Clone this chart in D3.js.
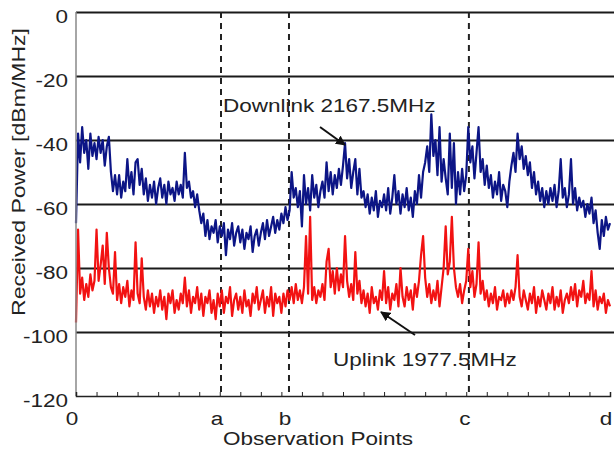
<!DOCTYPE html>
<html>
<head>
<meta charset="utf-8">
<script src="https://cdn.jsdelivr.net/npm/d3@7"></script>
<style>
  body { margin: 0; background: #fff; }
  text { font-family: "Liberation Sans", Arial, sans-serif; fill: #222; }
</style>
</head>
<body>
<div id="chart"></div>
<script>
// observation points along the route (x units), sampled every 0.1
const step = 0.1;
const pointNames = ["0", "a", "b", "c", "d"];
const pointPos = [0, 7.06, 10.37, 19.13, 26];
const yTicks = [0, -20, -40, -60, -80, -100, -120];

// Downlink 2167.5MHz, received power dBm/MHz
const downlink = [
  -66, -38, -47, -36, -44, -40, -49, -38, -45, -41,
  -46, -39, -44, -40, -48, -42, -39, -50, -56, -51,
  -57, -51, -58, -53, -56, -46, -55, -50, -57, -47,
  -46, -54, -49, -57, -52, -59, -54, -58, -53, -60,
  -55, -52, -58, -54, -60, -53, -57, -55, -59, -53,
  -57, -54, -58, -44, -55, -53, -58, -56, -61, -57,
  -62, -66, -63, -70, -65, -71, -67, -69, -65, -72,
  -67, -70, -66, -76, -68, -71, -66, -73, -69, -67,
  -72, -68, -74, -69, -71, -67, -75, -70, -68, -73,
  -69, -66, -71, -65, -70, -67, -64, -69, -65, -68,
  -63, -66, -61, -65, -62, -50, -58, -55, -61, -56,
  -67, -51, -60, -55, -62, -51, -58, -54, -61, -56,
  -53, -58, -47, -56, -50, -57, -51, -55, -49, -54,
  -48, -41, -52, -46, -55, -50, -46, -57, -49, -58,
  -56, -61, -57, -63, -58, -62, -56, -64, -59, -61,
  -57, -62, -55, -63, -58, -51, -60, -56, -63, -57,
  -61, -55, -62, -58, -64, -56, -60, -51, -58, -50,
  -47, -42, -50, -32, -45, -40, -51, -36, -53, -46,
  -52, -57, -38, -55, -41, -60, -50, -57, -49, -56,
  -51, -36, -47, -42, -52, -44, -36, -50, -46, -54,
  -48, -55, -51, -58, -53, -57, -50, -59, -54, -56,
  -61, -53, -48, -44, -50, -38, -46, -42, -49, -45,
  -51, -47, -55, -50, -57, -53, -59, -55, -61, -56,
  -60, -55, -59, -54, -61, -56, -46, -58, -55, -61,
  -57, -46, -60, -55, -62, -58, -61, -59, -64, -60,
  -63, -58, -66, -62, -69, -74, -65, -70, -64, -68, -66
];

// Uplink 1977.5MHz, received power dBm/MHz
const uplink = [
  -97, -68, -88, -83, -90, -85, -89, -82, -87, -84,
  -68, -84, -79, -73, -85, -69, -80, -86, -88, -75,
  -90, -85, -91, -86, -89, -84, -92, -87, -90, -72,
  -88, -91, -77, -89, -93, -87, -92, -88, -94, -89,
  -92, -87, -93, -89, -96, -88, -91, -87, -94, -90,
  -93, -88, -91, -83, -92, -87, -94, -89, -91, -86,
  -93, -88, -95, -89, -91, -87, -94, -90, -96, -88,
  -92, -87, -94, -89, -91, -86, -95, -90, -88, -93,
  -89, -94, -87, -92, -90, -95, -88, -91, -86, -93,
  -90, -87, -94, -89, -92, -86, -95, -88, -91, -89,
  -94, -88, -92, -87, -90, -86, -91, -85, -90, -87,
  -91, -86, -70, -88, -64, -90, -86, -91, -87, -89,
  -85, -90, -78, -74, -86, -81, -88, -80, -87, -82,
  -86, -70, -84, -89, -85, -90, -75, -88, -84, -91,
  -87, -92, -88, -94, -86, -91, -89, -93, -87, -90,
  -81, -91, -86, -93, -88, -90, -85, -92, -80, -89,
  -92, -86, -90, -87, -93, -85, -89, -84, -76, -70,
  -83, -89, -85, -91, -87, -90, -84, -92, -86, -80,
  -67, -82, -78, -64, -80, -86, -89, -85, -91, -87,
  -84, -74, -86, -81, -89, -85, -72, -88, -84, -90,
  -87, -92, -88, -91, -86, -93, -89, -90, -87, -92,
  -88, -91, -87, -90, -86, -76, -89, -92, -87, -90,
  -93, -88, -91, -86, -94, -89, -92, -87, -90, -93,
  -88, -91, -86, -93, -89, -92, -87, -94, -90, -88,
  -91, -86, -90, -85, -92, -87, -89, -84, -91, -88,
  -90, -81, -92, -87, -93, -89, -91, -88, -94, -90, -92
];

const width = 616, height = 450;
const mLeft = 76, mRight = 610, mTop = 12, mBottom = 396;
const textScale = 1.25;

const svg = d3.select("#chart").append("svg")
    .attr("width", width)
    .attr("height", height)
    .attr("viewBox", `0 0 ${width} ${height}`);

svg.append("rect").attr("width", width).attr("height", height).attr("fill", "#fff");

const x = d3.scaleLinear().domain([0, 26]).range([mLeft, mRight]);
const y = d3.scaleLinear().domain([-120, 0]).range([mBottom, mTop]);

// horizontal grid lines
svg.append("g")
    .attr("transform", `translate(${mLeft},0)`)
    .call(d3.axisLeft(y).tickValues(yTicks.slice(0, -1)).tickSize(-(mRight - mLeft + 4)).tickFormat(""))
    .call(g => g.select(".domain").remove())
    .call(g => g.selectAll(".tick line").attr("stroke", "#1a1a1a").attr("stroke-width", 2));

// dashed lines at the observation points a, b, c
svg.append("g").selectAll("line")
    .data(pointPos.slice(1, 4))
    .join("line")
    .attr("x1", d => x(d)).attr("x2", d => x(d))
    .attr("y1", mTop).attr("y2", mBottom)
    .attr("stroke", "#222")
    .attr("stroke-width", 2)
    .attr("stroke-dasharray", "6,5");

const line = d3.line()
    .x((d, i) => x(i * step))
    .y(d => y(d));

svg.append("path")
    .datum(uplink)
    .attr("d", line)
    .attr("fill", "none")
    .attr("stroke", "#f21212")
    .attr("stroke-width", 2.2)
    .attr("stroke-linejoin", "round");

svg.append("path")
    .datum(downlink)
    .attr("d", line)
    .attr("fill", "none")
    .attr("stroke", "#0c1586")
    .attr("stroke-width", 2.2)
    .attr("stroke-linejoin", "round");

// left axis line
svg.append("line")
    .attr("x1", mLeft).attr("x2", mLeft)
    .attr("y1", mTop).attr("y2", mBottom)
    .attr("stroke", "#888").attr("stroke-width", 1.5);

// bottom axis with small inward ticks
svg.append("g")
    .attr("transform", `translate(0,${mBottom})`)
    .call(d3.axisBottom(x).ticks(26).tickSize(-4).tickFormat(""))
    .call(g => g.select(".domain").attr("stroke", "#222").attr("stroke-width", 1.5))
    .call(g => g.selectAll(".tick line").attr("stroke", "#222"));

function label(tx, ty, str, anchor, rot, sx) {
  return svg.append("text")
      .attr("transform", `translate(${tx},${ty})` + (rot ? ` rotate(${rot})` : "") + ` scale(${sx || textScale},1)`)
      .attr("text-anchor", anchor)
      .style("font-size", "18px")
      .text(str);
}

yTicks.forEach(v => label(mLeft - 8, y(v) + 10.5, v, "end"));
pointNames.forEach((n, i) => label(x(pointPos[i]) - 4, 425, n, "middle"));

label(318, 445, "Observation Points", "middle");
label(24.5, 172, "Received Power [dBm/MHz]", "middle", -90, 1.28);

// annotations
svg.append("defs").append("marker")
    .attr("id", "head")
    .attr("viewBox", "0 0 10 10")
    .attr("refX", 9).attr("refY", 5)
    .attr("markerWidth", 5).attr("markerHeight", 5)
    .attr("orient", "auto")
    .append("path").attr("d", "M0,0L10,5L0,10Z").attr("fill", "#111");

label(223, 112, "Downlink 2167.5MHz", "start");
svg.append("line")
    .attr("x1", 320).attr("y1", 127).attr("x2", 345).attr("y2", 145)
    .attr("stroke", "#111").attr("stroke-width", 2).attr("marker-end", "url(#head)");

label(333, 366, "Uplink 1977.5MHz", "start");
svg.append("line")
    .attr("x1", 415).attr("y1", 335).attr("x2", 381).attr("y2", 312)
    .attr("stroke", "#111").attr("stroke-width", 2).attr("marker-end", "url(#head)");
</script>
</body>
</html>
